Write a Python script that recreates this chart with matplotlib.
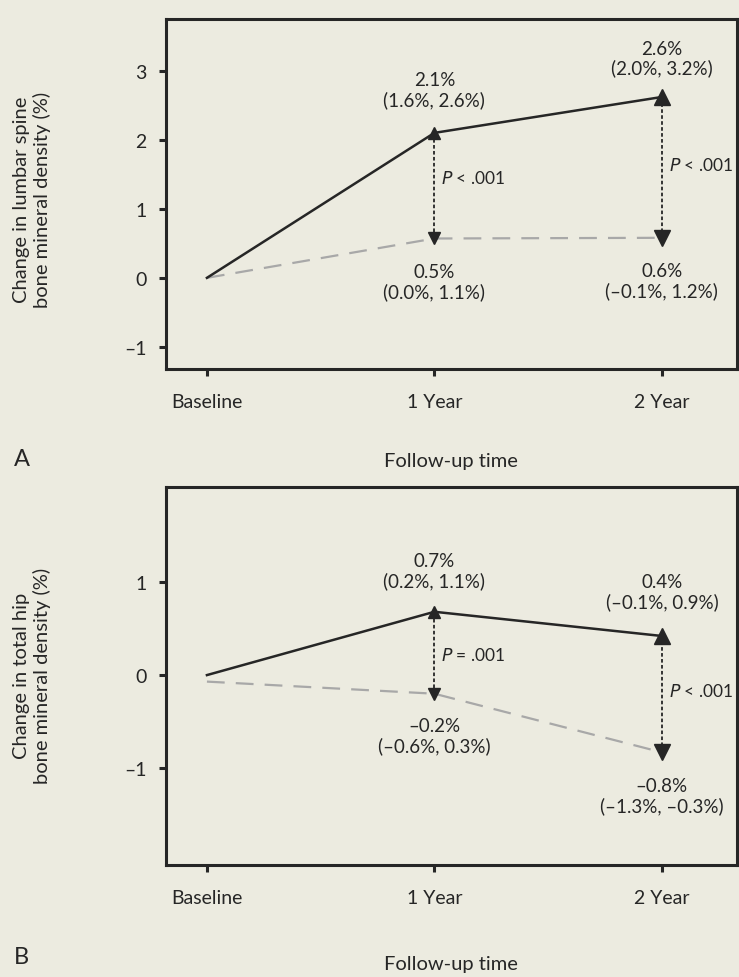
#!/usr/bin/env python3
import matplotlib
matplotlib.use("Agg")
import matplotlib.pyplot as plt

# --------------------------------------------------------------------
# Data
# --------------------------------------------------------------------
TIMES = ["Baseline", "1 Year", "2 Year"]

# Panel A: lumbar spine
A_TREAT = [0.0, 2.1, 2.62]
A_CTRL = [0.0, 0.57, 0.58]
A_TREAT_TXT = ["", "2.1%\n(1.6%, 2.6%)", "2.6%\n(2.0%, 3.2%)"]
A_CTRL_TXT = ["", "0.5%\n(0.0%, 1.1%)", "0.6%\n(\u20130.1%, 1.2%)"]
A_P = ["", "< .001", "< .001"]

# Panel B: total hip
B_TREAT = [0.0, 0.68, 0.42]
B_CTRL = [-0.07, -0.2, -0.83]
B_TREAT_TXT = ["", "0.7%\n(0.2%, 1.1%)", "0.4%\n(\u20130.1%, 0.9%)"]
B_CTRL_TXT = ["", "\u20130.2%\n(\u20130.6%, 0.3%)", "\u20130.8%\n(\u20131.3%, \u20130.3%)"]
B_P = ["", "= .001", "< .001"]

BG = "#ECEBE0"
INK = "#262626"
GREY = "#A8A8A8"

plt.rcParams["font.family"] = ["Lato", "DejaVu Sans"]
plt.rcParams["font.size"] = 13


def panel(ax, treat, ctrl, treat_txt, ctrl_txt, pvals, ylim, yticks,
          up_off, down_off, p_y):
    x = list(range(len(TIMES)))
    ax.set_facecolor(BG)
    ax.plot(x, ctrl, color=GREY, lw=1.6, dashes=(8, 5), zorder=2)
    ax.plot(x, treat, color=INK, lw=1.8, zorder=3)

    for i in x[1:]:
        ms = 8 if i == 1 else 11
        ax.plot([i, i], [ctrl[i], treat[i]], color=INK, lw=1.3,
                dashes=(2, 1.3), zorder=2)
        ax.plot(i, treat[i], marker="^", color=INK, ms=ms, zorder=4)
        ax.plot(i, ctrl[i], marker="v", color=INK, ms=ms, zorder=4)
        ax.annotate(treat_txt[i], (i, treat[i]), xytext=(0, up_off[i]),
                    textcoords="offset points", ha="center", va="center",
                    color=INK, fontsize=13.5, linespacing=1.15)
        ax.annotate(ctrl_txt[i], (i, ctrl[i]), xytext=(0, down_off[i]),
                    textcoords="offset points", ha="center", va="center",
                    color=INK, fontsize=13.5, linespacing=1.15)
        ax.text(i + 0.03, p_y[i], "$\\it{P}$ " + pvals[i], ha="left",
                va="center", color=INK, fontsize=12.5)

    ax.set_xlim(-0.18, 2.33)
    ax.set_ylim(*ylim)
    ax.set_yticks(yticks)
    ax.set_yticklabels([str(v).replace("-", "\u2013") for v in yticks])
    ax.set_xticks(x)
    ax.set_xticklabels(TIMES)
    for s in ax.spines.values():
        s.set_linewidth(2.2)
        s.set_color(INK)
    ax.tick_params(axis="both", length=5, width=2.2, color=INK,
                   labelcolor=INK, labelsize=14)
    ax.tick_params(axis="x", pad=12)
    ax.tick_params(axis="y", pad=9)


fig = plt.figure(figsize=(7.39, 9.78), dpi=100)
fig.patch.set_facecolor(BG)

ax_a = fig.add_axes([0.2246, 0.6217, 0.7727, 0.3579])
panel(ax_a, A_TREAT, A_CTRL, A_TREAT_TXT, A_CTRL_TXT, A_P,
      (-1.32, 3.75), [-1, 0, 1, 2, 3],
      up_off=[0, 31, 28], down_off=[0, -31, -31], p_y=[0, 1.45, 1.64])

ax_b = fig.add_axes([0.2246, 0.1145, 0.7727, 0.3865])
panel(ax_b, B_TREAT, B_CTRL, B_TREAT_TXT, B_CTRL_TXT, B_P,
      (-2.04, 2.02), [-1, 0, 1],
      up_off=[0, 30, 32], down_off=[0, -30, -31], p_y=[0, 0.22, -0.17])

fig.text(32 / 739, 1 - 200 / 978,
         "Change in lumbar spine\nbone mineral density (%)",
         rotation=90, ha="center", va="center", color=INK, fontsize=14.5,
         multialignment="center", linespacing=1.2)
fig.text(32 / 739, 1 - 676 / 978,
         "Change in total hip\nbone mineral density (%)",
         rotation=90, ha="center", va="center", color=INK, fontsize=14.5,
         multialignment="center", linespacing=1.2)

fig.text(451 / 739, 1 - 462 / 978, "Follow-up time", ha="center",
         va="center", color=INK, fontsize=14.5)
fig.text(451 / 739, 1 - 965 / 978, "Follow-up time", ha="center",
         va="center", color=INK, fontsize=14.5)
fig.text(14 / 739, 1 - 460 / 978, "A", ha="left", va="center",
         color=INK, fontsize=17)
fig.text(14 / 739, 1 - 958 / 978, "B", ha="left", va="center",
         color=INK, fontsize=17)

fig.savefig("out.png", dpi=100, facecolor=BG)
